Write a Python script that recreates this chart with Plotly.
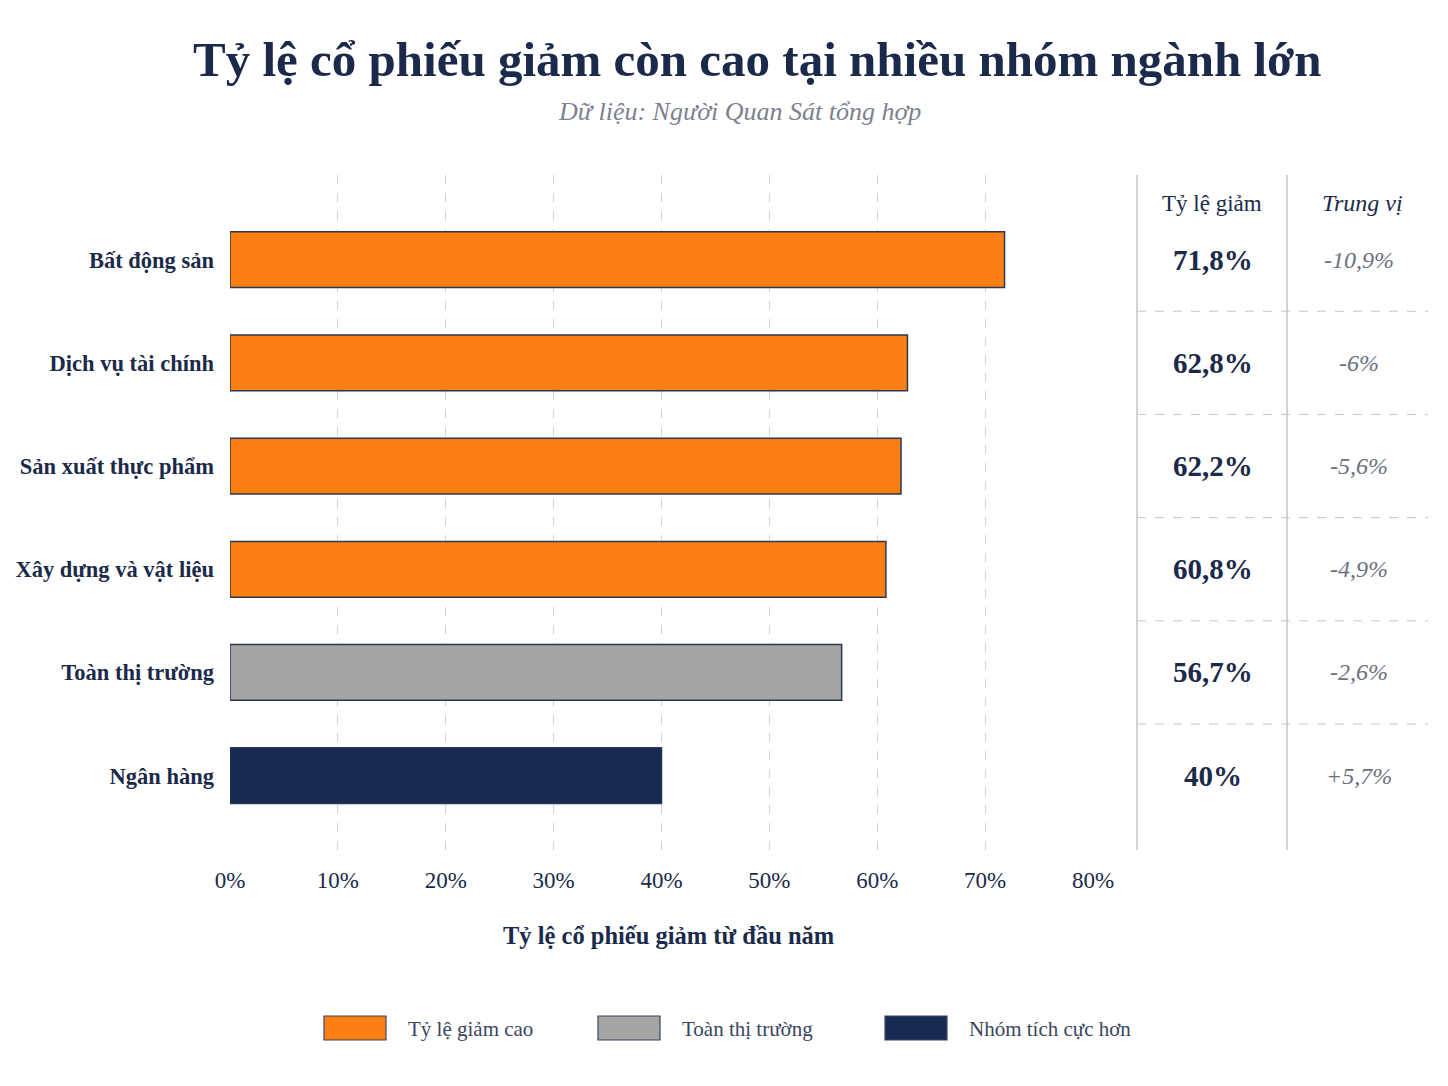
import plotly.graph_objects as go

categories = ["Bất động sản", "Dịch vụ tài chính", "Sản xuất thực phẩm",
              "Xây dựng và vật liệu", "Toàn thị trường", "Ngân hàng"]
decline_pct = [71.8, 62.8, 62.2, 60.8, 56.7, 40.0]
decline_labels = ["71,8%", "62,8%", "62,2%", "60,8%", "56,7%", "40%"]
median_labels = ["-10,9%", "-6%", "-5,6%", "-4,9%", "-2,6%", "+5,7%"]
groups = ["Tỷ lệ giảm cao", "Tỷ lệ giảm cao", "Tỷ lệ giảm cao",
          "Tỷ lệ giảm cao", "Toàn thị trường", "Nhóm tích cực hơn"]
legend_names = ["Tỷ lệ giảm cao", "Toàn thị trường", "Nhóm tích cực hơn"]
x_ticks = [0, 10, 20, 30, 40, 50, 60, 70, 80]
x_tick_labels = ["0%", "10%", "20%", "30%", "40%", "50%", "60%", "70%", "80%"]

group_colors = {"Tỷ lệ giảm cao": "#FC7F14",
                "Toàn thị trường": "#A5A5A5",
                "Nhóm tích cực hơn": "#172B52"}

FONT = "Liberation Serif, Times New Roman, serif"
NAVY = "#1B2A4A"
W, H = 1448, 1086

def px(x):
    return x / W

def py(y):
    return (H - y) / H

def ann(text, x, y, size, color=NAVY, xref="paper", yref="paper", xanchor="center"):
    return dict(text=text, x=x, y=y, xref=xref, yref=yref, showarrow=False,
                xanchor=xanchor, yanchor="middle",
                font=dict(family=FONT, size=size, color=color))

fig = go.Figure()
fig.add_trace(go.Bar(
    y=categories, x=decline_pct, orientation="h",
    marker=dict(color=[group_colors[g] for g in groups],
                line=dict(color="#2B3650", width=1.5)),
    width=0.54, showlegend=False, hoverinfo="skip",
))

annotations = []
shapes = []

# Title & subtitle
annotations.append(ann("<b>Tỷ lệ cổ phiếu giảm còn cao tại nhiều nhóm ngành lớn</b>",
                       px(757), py(60), 49))
annotations.append(ann("<i>Dữ liệu: Người Quan Sát tổng hợp</i>",
                       px(739), py(112), 26, color="#7C8190"))

# Axis title
annotations.append(ann("<b>Tỷ lệ cổ phiếu giảm từ đầu năm</b>", px(668), py(935), 24.5))

# Table
col1_x, col2_x = 1137, 1287
top_y, bot_y = 175, 850
for xv in (col1_x, col2_x):
    shapes.append(dict(type="line", xref="paper", yref="paper",
                       x0=px(xv), x1=px(xv), y0=py(top_y), y1=py(bot_y),
                       line=dict(color="#B4B8C2", width=1.2)))
for i in range(len(categories) - 1):
    shapes.append(dict(type="line", xref="paper", yref="y",
                       x0=px(col1_x), x1=px(1428), y0=i + 0.5, y1=i + 0.5,
                       line=dict(color="#C2C5CC", width=1, dash="dash")))
annotations.append(ann("Tỷ lệ giảm", px(1212), py(203), 23))
annotations.append(ann("<i>Trung vị</i>", px(1362), py(203), 24))
for cat, dl, ml in zip(categories, decline_labels, median_labels):
    annotations.append(ann(f"<b>{dl}</b>", px(1213), cat, 29, yref="y"))
    annotations.append(ann(f"<i>{ml}</i>", px(1359), cat, 24, color="#6B7080", yref="y"))

# Custom legend
legend_swatch_x = [324, 598, 885]
for name, sx in zip(legend_names, legend_swatch_x):
    shapes.append(dict(type="rect", xref="paper", yref="paper",
                       x0=px(sx), x1=px(sx + 62), y0=py(1040), y1=py(1016),
                       fillcolor=group_colors[name], line=dict(color="#3A4660", width=1.2)))
    annotations.append(ann(name, px(sx + 82), py(1029), 21, color="#3A4560", xanchor="left"))

fig.update_layout(
    width=W, height=H,
    margin=dict(l=0, r=0, t=0, b=0),
    paper_bgcolor="white", plot_bgcolor="white",
    font=dict(family=FONT, color=NAVY),
    xaxis=dict(domain=[px(230), px(1093)], range=[0, 80], automargin=False,
               tickvals=x_ticks, ticktext=x_tick_labels,
               showgrid=True, gridcolor="#D0D3D8", griddash="dash", gridwidth=1,
               zeroline=False, showline=False, ticks="",
               ticklabelstandoff=14,
               tickfont=dict(family=FONT, size=23, color=NAVY)),
    yaxis=dict(domain=[py(850), py(175)], automargin=False,
               categoryorder="array", categoryarray=categories,
               range=[5.72, -0.82], showgrid=False, zeroline=False, showline=False,
               ticks="", ticklabelstandoff=15,
               tickfont=dict(family=FONT, size=22.5, color=NAVY)),
    annotations=annotations, shapes=shapes,
    showlegend=False,
)
fig.update_yaxes(tickprefix="<b>", ticksuffix="</b>")

fig.write_html("out.html")
